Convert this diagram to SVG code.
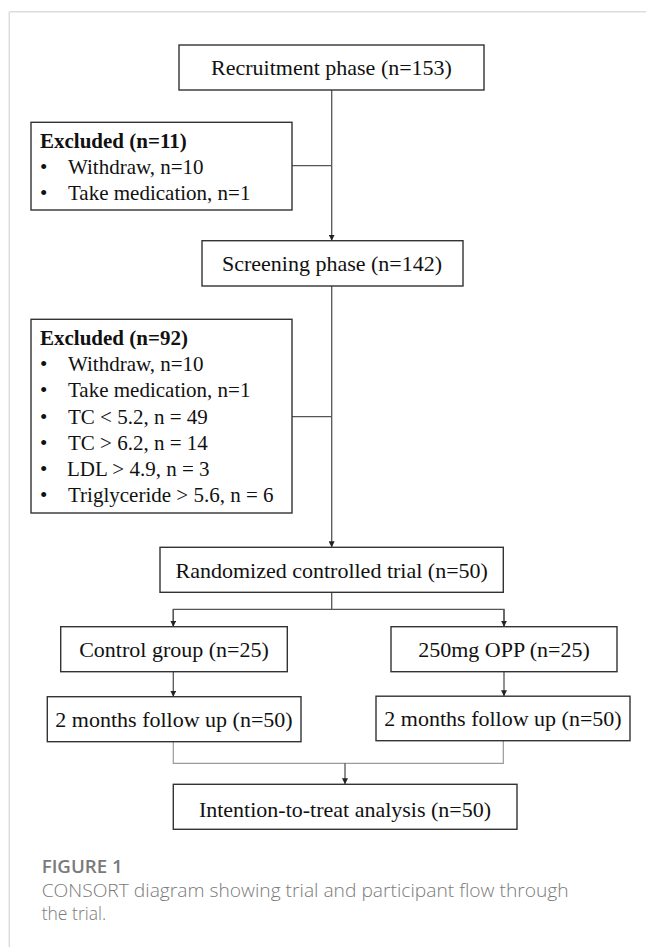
<svg xmlns="http://www.w3.org/2000/svg" width="646" height="947" viewBox="0 0 646 947">
<style>
.box{fill:#fff;stroke:#333;stroke-width:1.4}
.t{font-family:"Liberation Serif","Times New Roman",serif;font-size:22px;fill:#111;text-anchor:middle}
.l{font-family:"Liberation Serif","Times New Roman",serif;font-size:21px;fill:#111}
.b{font-weight:bold}
.c{fill:none;stroke:#555;stroke-width:1.3}
.m{fill:none;stroke:#9a9a9a;stroke-width:1.2}
.cap{font-family:"Open Sans","Noto Sans",sans-serif;fill:#7a7a7a}
</style>
<defs>
<marker id="ah" viewBox="0 0 10 10" refX="10" refY="5" markerWidth="6" markerHeight="6" markerUnits="userSpaceOnUse" orient="auto">
<path d="M0,0 L10,5 L0,10 z" fill="#222"/>
</marker>
</defs>
<rect width="646" height="947" fill="#fff"/>
<g id="frame">
<line x1="9.3" y1="11.7" x2="646" y2="11.7" stroke="#dcdcdc" stroke-width="1.5"/>
<line x1="9.3" y1="11.7" x2="9.3" y2="947" stroke="#dcdcdc" stroke-width="1.5"/>
</g>
<g id="connectors">
<path class="c" d="M331.7,90 V240.7" marker-end="url(#ah)"/>
<path class="c" d="M292,165.7 H331.7"/>
<path class="c" d="M331.7,286 V547.3" marker-end="url(#ah)"/>
<path class="c" d="M292,416.7 H331.7"/>
<path class="c" d="M331.7,592.3 V609.3"/>
<path class="c" d="M173.3,626.7 V609.3 H504 V626.7"/>
<path class="c" d="M173.3,609.3 V626.7" marker-end="url(#ah)"/>
<path class="c" d="M504,609.3 V626.7" marker-end="url(#ah)"/>
<path class="c" d="M173.3,671.7 V696.7" marker-end="url(#ah)"/>
<path class="c" d="M504,671.7 V696.2" marker-end="url(#ah)"/>
<path class="m" d="M173.3,741.5 V763.3 H503.3 V740.7"/>
<path class="c" d="M345,763.3 V784.3" marker-end="url(#ah)"/>
</g>
<g id="recruitment">
<rect class="box" x="179" y="45" width="305" height="45"/>
<text class="t" x="331.5" y="75">Recruitment phase (n=153)</text>
</g>
<g id="excluded11">
<rect class="box" x="31" y="122.3" width="261" height="87.7"/>
<text class="l b" x="40" y="147.7">Excluded (n=11)</text>
<text class="l" x="40" y="174">•</text><text class="l" x="68" y="174">Withdraw, n=10</text>
<text class="l" x="40" y="200">•</text><text class="l" x="68" y="200">Take medication, n=1</text>
</g>
<g id="screening">
<rect class="box" x="202" y="240.7" width="261" height="45.3"/>
<text class="t" x="332" y="270.7">Screening phase (n=142)</text>
</g>
<g id="excluded92">
<rect class="box" x="31" y="319.3" width="261" height="193.7"/>
<text class="l b" x="40" y="345">Excluded (n=92)</text>
<text class="l" x="40" y="371.2">•</text><text class="l" x="68" y="371.2">Withdraw, n=10</text>
<text class="l" x="40" y="397.4">•</text><text class="l" x="68" y="397.4">Take medication, n=1</text>
<text class="l" x="40" y="423.6">•</text><text class="l" x="68" y="423.6">TC &lt; 5.2, n = 49</text>
<text class="l" x="40" y="449.8">•</text><text class="l" x="68" y="449.8">TC &gt; 6.2, n = 14</text>
<text class="l" x="40" y="476">•</text><text class="l" x="67" y="476">LDL &gt; 4.9, n = 3</text>
<text class="l" x="40" y="502.2">•</text><text class="l" x="68" y="502.2">Triglyceride &gt; 5.6, n = 6</text>
</g>
<g id="randomized">
<rect class="box" x="160" y="547.3" width="343.3" height="45"/>
<text class="t" x="331.7" y="578.3">Randomized controlled trial (n=50)</text>
</g>
<g id="control">
<rect class="box" x="60.7" y="626.7" width="226.6" height="45"/>
<text class="t" x="174" y="656.7">Control group (n=25)</text>
</g>
<g id="opp">
<rect class="box" x="391" y="626.7" width="226" height="45"/>
<text class="t" x="504" y="656.7">250mg OPP (n=25)</text>
</g>
<g id="followup-left">
<rect class="box" x="47.3" y="696.7" width="253.7" height="45"/>
<text class="t" x="174" y="726.7">2 months follow up (n=50)</text>
</g>
<g id="followup-right">
<rect class="box" x="376" y="696.2" width="254" height="44.5"/>
<text class="t" x="503" y="726.2">2 months follow up (n=50)</text>
</g>
<g id="itt">
<rect class="box" x="173.3" y="784.3" width="343.7" height="45"/>
<text class="t" x="345" y="816.7">Intention-to-treat analysis (n=50)</text>
</g>
<g id="caption">
<text class="cap" x="41.7" y="872.7" font-size="18.5" font-weight="600" fill="#6e6e6e" textLength="81" lengthAdjust="spacingAndGlyphs">FIGURE 1</text>
<text class="cap" x="41.7" y="896.7" font-size="17.5" font-weight="300" textLength="527" lengthAdjust="spacingAndGlyphs">CONSORT diagram showing trial and participant flow through</text>
<text class="cap" x="41.7" y="920" font-size="17.5" font-weight="300">the trial.</text>
</g>
</svg>
